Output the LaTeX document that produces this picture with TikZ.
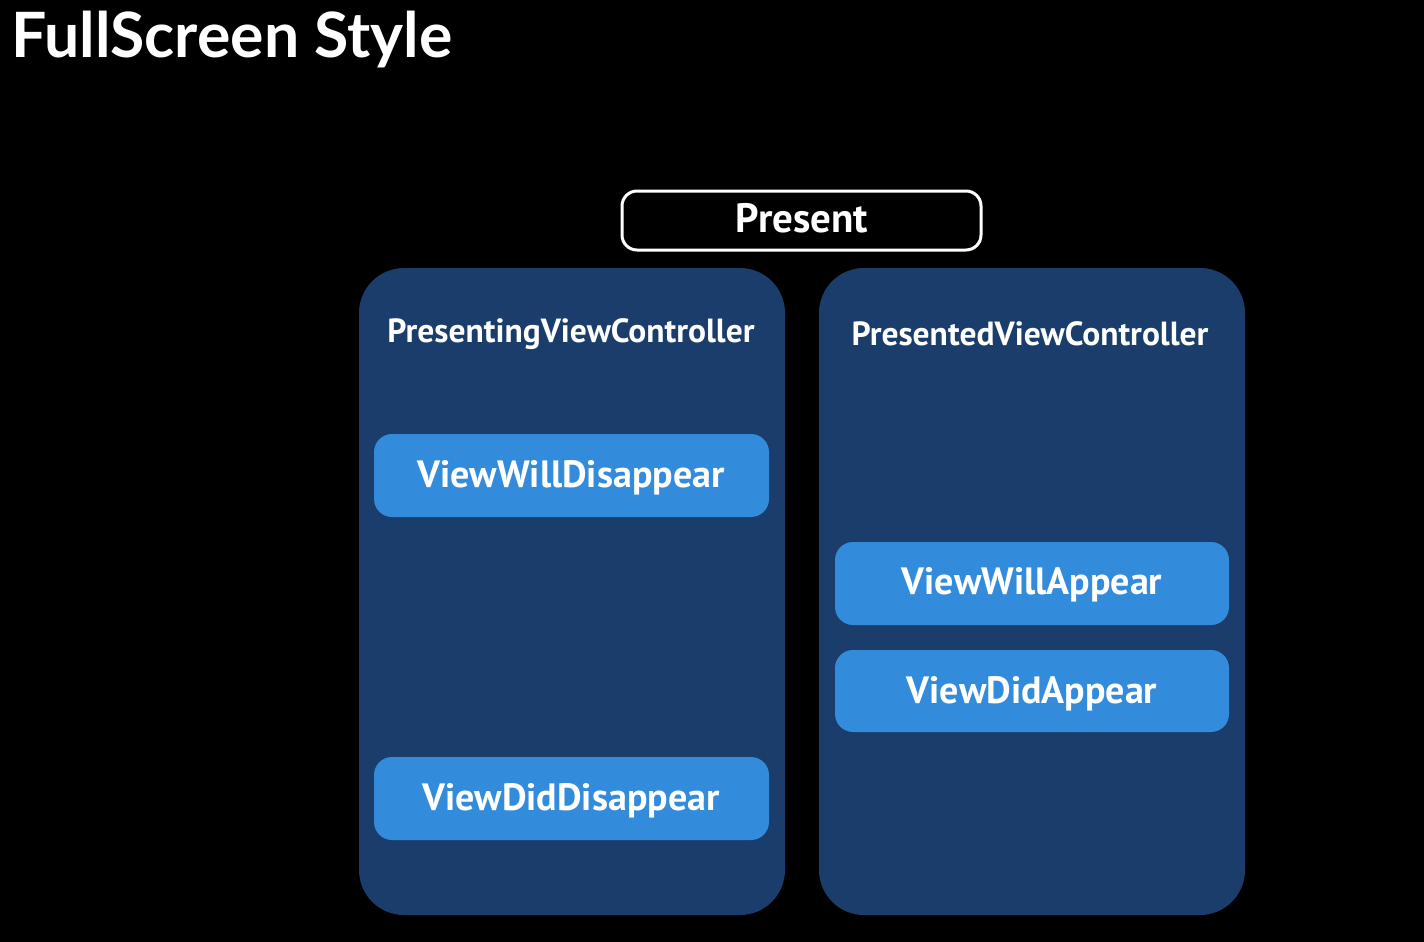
\documentclass[tikz,border=0pt]{standalone}
\usepackage{fontspec}
\setmainfont{Fira Sans}
\newfontfamily\titlefont{Lato}
\newfontfamily\boxfont{PT Sans}
\definecolor{darkbox}{HTML}{1A3D6B}
\definecolor{lightbox}{HTML}{338BDB}
\begin{document}
\begin{tikzpicture}[x=1pt,y=-1pt,
  vcbox/.style={fill=darkbox, rounded corners=45pt},
  evbox/.style={fill=lightbox, rounded corners=18pt},
  vctext/.style={text=white, font=\boxfont\bfseries\fontsize{33.5}{38}\selectfont, inner sep=0pt},
  evtext/.style={text=white, font=\boxfont\bfseries\fontsize{38}{44}\selectfont, inner sep=0pt},
]
\fill[black] (0,0) rectangle (1424,942);
\useasboundingbox (0,0) rectangle (1424,942);
\node[anchor=base west, text=white, font=\titlefont\bfseries\fontsize{62.5}{72}\selectfont, inner sep=0pt] (title) at (11,58) {FullScreen Style};
\draw[white, line width=3pt, rounded corners=15pt] (622,191) rectangle (981,250);
\node[text=white, font=\boxfont\bfseries\fontsize{41}{46}\selectfont, inner sep=0pt, anchor=base] (present) at (802,232) {Present};
\fill[vcbox] (359,268) rectangle (785,915);
\fill[vcbox] (819,268) rectangle (1245,915);
\node[vctext, anchor=base] (presenting) at (571,342) {PresentingViewController};
\node[vctext, anchor=base] (presented) at (1030,345) {PresentedViewController};
\fill[evbox] (374,434) rectangle (769,517);
\node[evtext, anchor=base] (wdis) at (571,487) {ViewWillDisappear};
\fill[evbox] (374,757) rectangle (769,840);
\node[evtext, anchor=base] (ddis) at (571,810) {ViewDidDisappear};
\fill[evbox] (835,542) rectangle (1229,625);
\node[evtext, anchor=base] (wapp) at (1032,594) {ViewWillAppear};
\fill[evbox] (835,650) rectangle (1229,732);
\node[evtext, anchor=base] (dapp) at (1032,703) {ViewDidAppear};
\end{tikzpicture}
\end{document}
